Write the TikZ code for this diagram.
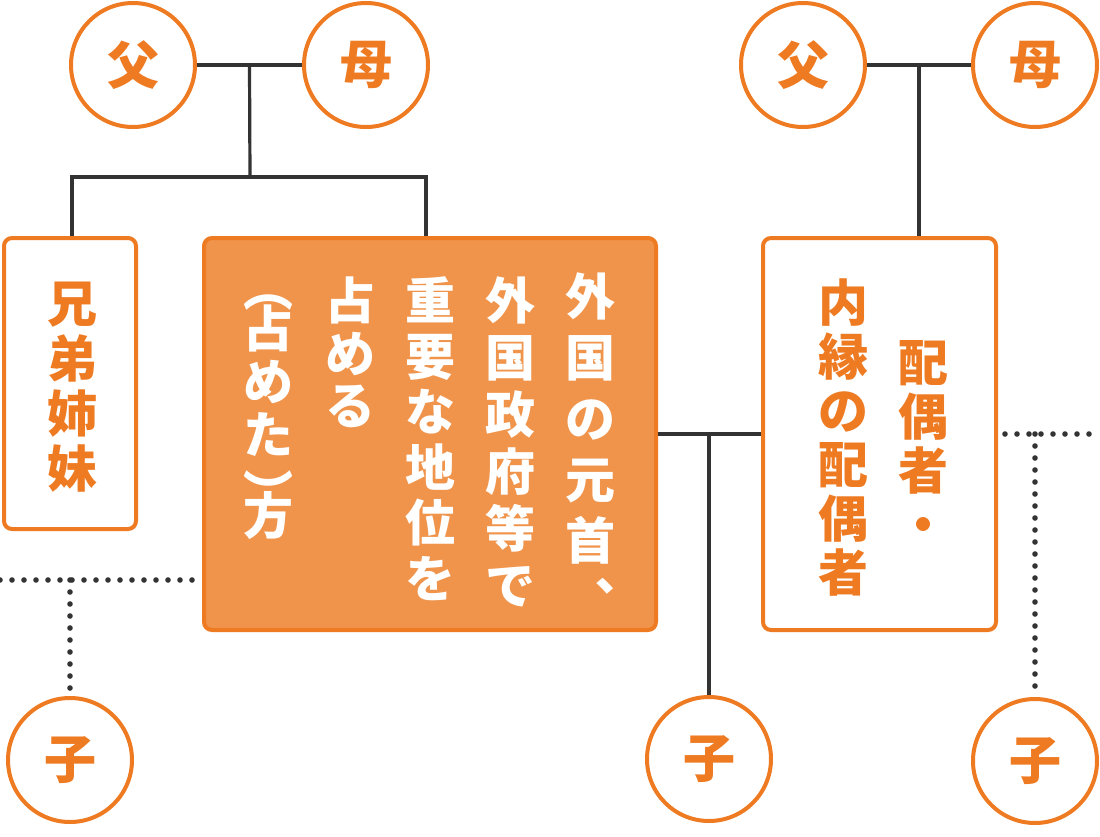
\documentclass[tikz,border=0pt]{standalone}
\usepackage{fontspec}
\newfontfamily\jpfont{Noto Sans CJK JP}
\usetikzlibrary{calc}
\definecolor{kinorange}{HTML}{EE7A22}
\definecolor{kinfill}{HTML}{F0944B}
\definecolor{kinline}{HTML}{333333}
\newcommand{\tatestrut}{\rule{0pt}{22pt}}

\begin{document}
\begin{tikzpicture}[x=0.5pt, y=-0.5pt,
    person/.style={circle, draw=kinorange, line width=2pt, fill=white, minimum size=62pt, inner sep=0pt, text=kinorange, font=\jpfont\bfseries\fontsize{26}{26}\selectfont},
    kinbox/.style={rectangle, draw=kinorange, line width=2pt, fill=white, rounded corners=4pt},
    vtext/.style={align=center, anchor=north, inner sep=0pt, text=kinorange, font=\jpfont\bfseries\fontsize{25}{#1}\selectfont},
    vtext/.default=27,
    tie/.style={draw=kinline, line width=1.6pt},
    dotline/.style={draw=kinline, line width=2.8pt, line cap=round, dash pattern=on 0pt off 6pt}
    ]
    \useasboundingbox (0,0) rectangle (1100,837);

    \node [person] (father1) at (133,65) {父};
    \node [person] (mother1) at (366,65) {母};
    \node [person] (father2) at (803,65) {父};
    \node [person] (mother2) at (1035,65) {母};

    \node [kinbox, minimum width=66pt, minimum height=145.5pt] (sibling) at (70,383.5) {};
    \node [kinbox, fill=kinfill, minimum width=226pt, minimum height=196pt] (pep) at (430,434) {};
    \node [kinbox, minimum width=116.5pt, minimum height=196pt] (spouse) at (879.5,434) {};

    \node [person] (child1) at (70,760) {子};
    \node [person] (child2) at (709,759) {子};
    \node [person] (child3) at (1035,761) {子};

    \node [vtext=27.5] (siblingtext) at (72,278) {\tatestrut 兄\\弟\\姉\\妹};
    \node [vtext=30.5, text=white] (pep1) at (590,271) {\tatestrut 外\\国\\の\\元\\首\\︑};
    \node [vtext=28.5, text=white] (pep2) at (510,275) {\tatestrut 外\\国\\政\\府\\等\\で};
    \node [vtext=27.8, text=white] (pep3) at (430,275) {\tatestrut 重\\要\\な\\地\\位\\を};
    \node [vtext=26.3, text=white] (pep4) at (350,275) {\tatestrut 占\\め\\る};
    \node [vtext=26.5, text=white] (pep5) at (268,262) {\tatestrut ︵\\[-6pt]占\\め\\た\\[3pt]︶\\[-15.5pt]方};
    \node [vtext=27] (spouse1) at (923,337) {\tatestrut 配\\偶\\者\\・};
    \node [vtext=27] (spouse2) at (843,277) {\tatestrut 内\\縁\\の\\配\\偶\\者};

    \coordinate (join1) at ($(father1)!0.5!(mother1)$);
    \coordinate (join2) at ($(father2)!0.5!(mother2)$);
    \coordinate (fork1) at (250,177);
    \coordinate (fork2) at (709,434);
    \coordinate (dotstart) at (1005,434);
    \coordinate (dotend) at (1100,434);
    \coordinate (dotleft) at (0,580);

    \draw [tie] (father1) -- (mother1);
    \draw [tie] (join1) -- (fork1);
    \draw [tie] ([xshift=1pt]sibling.north) |- (fork1) -| ([xshift=-2pt]pep.north);
    \draw [tie] (father2) -- (mother2);
    \draw [tie] (join2) -- (join2 |- spouse.north);
    \draw [tie] (pep.east) -- (spouse.west);
    \draw [tie] (fork2) -- (child2);

    \draw [dotline] (dotstart) -- (dotend);
    \draw [dotline] (child3 |- dotstart) -- (child3.north);
    \draw [dotline] (dotleft) -- (dotleft -| pep.west);
    \draw [dotline] (child1 |- dotleft) -- (child1.north);
\end{tikzpicture}
\end{document}
